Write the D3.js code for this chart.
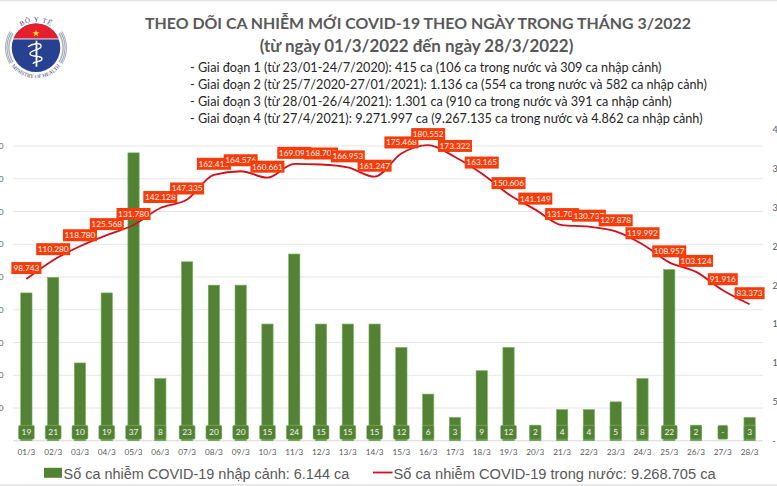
<!DOCTYPE html>
<html><head><meta charset="utf-8">
<script src="https://cdnjs.cloudflare.com/ajax/libs/d3/7.8.5/d3.min.js"></script>
<style>html,body{margin:0;padding:0;background:#fff;overflow:hidden}svg{display:block}</style>
</head><body><div id="c"></div>
<script>
const days = ["01/3","02/3","03/3","04/3","05/3","06/3","07/3","08/3","09/3","10/3","11/3","12/3","13/3","14/3","15/3","16/3","17/3","18/3","19/3","20/3","21/3","22/3","23/3","24/3","25/3","26/3","27/3","28/3"];
const imported = [19,21,10,19,37,8,23,20,20,15,24,15,15,15,12,6,3,9,12,2,4,4,5,8,22,2,0,3];
const domestic = [98743,110280,118780,125568,131780,142128,147335,162415,164576,160661,169098,168707,166953,161247,175468,180552,173322,163165,150606,141149,131700,130737,127878,119992,108957,103124,91916,83373];
const titleLines = ["THEO DÕI CA NHIỄM MỚI COVID-19 THEO NGÀY TRONG THÁNG 3/2022","(từ ngày 01/3/2022 đến ngày 28/3/2022)"];
const stageLines = [
 "- Giai đoạn 1 (từ 23/01-24/7/2020): 415 ca (106 ca trong nước và 309 ca nhập cảnh)",
 "- Giai đoạn 2 (từ 25/7/2020-27/01/2021): 1.136 ca (554 ca trong nước và 582 ca nhập cảnh)",
 "- Giai đoạn 3 (từ 28/01-26/4/2021): 1.301 ca (910 ca trong nước và 391 ca nhập cảnh)",
 "- Giai đoạn 4 (từ 27/4/2021): 9.271.997 ca (9.267.135 ca trong nước và 4.862 ca nhập cảnh)"];
const legendBar = "Số ca nhiễm COVID-19 nhập cảnh: 6.144 ca";
const legendLine = "Số ca nhiễm COVID-19 trong nước: 9.268.705 ca";

const W=777,H=486;
const svg=d3.select("#c").append("svg").attr("width",W).attr("height",H).attr("viewBox",`0 0 ${W} ${H}`);
svg.append("rect").attr("width",W).attr("height",H).attr("fill","#fff");
svg.append("rect").attr("width",W).attr("height",1.2).attr("fill","#e4e4e4");
svg.append("rect").attr("y",484).attr("width",W).attr("height",2).attr("fill","#e9e9e9");

const fmt=d3.formatLocale({decimal:",",thousands:".",grouping:[3],currency:["",""]}).format(",d");
const x=d3.scaleBand().domain(days).range([13,763]);
const yL=d3.scaleLinear().domain([0,180000]).range([440.75,146]);
const yR=d3.scaleLinear().domain([0,40]).range([440.75,129.5]);
const cx=d=>x(d)+x.bandwidth()/2;
const GRAY="#595959";

// gridlines
svg.append("g").selectAll("line").data(yL.ticks(9)).join("line")
  .attr("x1",13).attr("x2",763).attr("y1",d=>yL(d)).attr("y2",d=>yL(d))
  .attr("stroke",d=>d===0?"#d9d9d9":"#e6e6e6").attr("stroke-width",1);

// axes
const axL=svg.append("g").attr("transform","translate(3.5,0)").call(d3.axisLeft(yL).tickValues(yL.ticks(9).filter(d=>d>0)).tickSize(0).tickPadding(0).tickFormat(fmt));
const axR=svg.append("g").attr("transform","translate(772.5,0)").call(d3.axisRight(yR).tickValues(d3.range(0,45,5)).tickSize(0).tickPadding(0).tickFormat(d=>d===0?"-":d));
const axB=svg.append("g").attr("transform","translate(0,451.7)").call(d3.axisBottom(x).tickSize(0).tickPadding(0));
[axL,axR,axB].forEach(a=>{a.select(".domain").remove();a.selectAll("text").attr("fill",GRAY).attr("font-family","Lato, sans-serif").attr("font-size",8.2);});
axR.selectAll("text").attr("font-size",9);
axB.selectAll("text").attr("dy","0.35em").attr("y",0);

// bars
const BW=11.3;
svg.append("g").selectAll("rect").data(days.map((d,i)=>({d,v:imported[i]})).filter(o=>o.v>0)).join("rect")
  .attr("x",o=>cx(o.d)-BW/2).attr("width",BW)
  .attr("y",o=>yR(o.v)).attr("height",o=>yR(0)-yR(o.v))
  .attr("fill","#548235").attr("stroke","#78b565").attr("stroke-width",.6);

// bar labels
const bl=svg.append("g").selectAll("g").data(days.map((d,i)=>({d,v:imported[i]}))).join("g")
  .attr("transform",o=>`translate(${cx(o.d)},432.3)`);
bl.append("rect")
  .attr("x",o=>o.v>=10?-8:(o.v===0?-5:-5.7)).attr("width",o=>o.v>=10?16:(o.v===0?10:11.4))
  .attr("y",-7).attr("height",14).attr("rx",1.5)
  .attr("fill","#548235").attr("stroke","#8cc27a").attr("stroke-width",.5);
bl.append("text").text(o=>o.v===0?"-":o.v).attr("text-anchor","middle").attr("dy","0.35em")
  .attr("fill","#f2f6ee").attr("font-family","Lato, sans-serif").attr("font-size",8.4);

// line
svg.append("path").datum(domestic)
  .attr("d",d3.line().x((v,i)=>cx(days[i])).y(v=>yL(v)).curve(d3.curveMonotoneX))
  .attr("fill","none").attr("stroke","#d2101c").attr("stroke-width",1.8);

// line labels
const ll=svg.append("g").selectAll("g").data(domestic).join("g")
  .attr("transform",(v,i)=>`translate(${cx(days[i])},${yL(v)-11})`);
ll.append("rect").attr("x",v=>v<100000?-15:-17).attr("width",v=>v<100000?30:34)
  .attr("y",-6).attr("height",12).attr("fill","#f63c0a");
ll.append("text").text(v=>fmt(v)).attr("text-anchor","middle").attr("dy","0.35em")
  .attr("fill","#fff5ee").attr("font-family","Lato, sans-serif").attr("font-size",8.3);

// titles
svg.append("g").selectAll("text").data(titleLines).join("text").text(d=>d)
  .attr("x",(d,i)=>i?416.5:418).attr("y",(d,i)=>i?52:29).attr("text-anchor","middle")
  .attr("fill",GRAY).attr("font-family","Lato, sans-serif").attr("font-weight",700)
  .attr("font-size",(d,i)=>i?16.9:15.9);
svg.append("g").selectAll("text").data(stageLines).join("text").text(d=>d)
  .attr("x",190).attr("y",(d,i)=>72.3+i*16.8)
  .attr("fill","#262626").attr("font-family","Lato, sans-serif").attr("font-size",12.65);

// legend
svg.append("rect").attr("x",44).attr("y",467.8).attr("width",18).attr("height",10).attr("fill","#548235");
svg.append("text").text(legendBar).attr("x",63.5).attr("y",478.5)
  .attr("fill",GRAY).attr("font-family","'Liberation Sans', sans-serif").attr("font-size",14.45);
svg.append("line").attr("x1",373).attr("x2",392.5).attr("y1",472.5).attr("y2",472.5).attr("stroke","#d2101c").attr("stroke-width",1.8);
svg.append("text").text(legendLine).attr("x",393.5).attr("y",478.5)
  .attr("fill",GRAY).attr("font-family","'Liberation Sans', sans-serif").attr("font-size",14.65);

// logo
const logo=svg.append("g").attr("transform","translate(36,47.7)");
const arc=d3.arc();
const DEG=Math.PI/180;
[[26.4,27.8],[28.4,29.6],[30,31]].forEach(r=>{
  [[-122,-58],[58,122]].forEach(s=>{
    logo.append("path").attr("d",arc({innerRadius:r[0],outerRadius:r[1],startAngle:s[0]*DEG,endAngle:s[1]*DEG})).attr("fill","#a9adb8");
  });
});
logo.append("circle").attr("r",25).attr("fill","#fff");
logo.append("circle").attr("r",24.3).attr("fill","#27408f");
const defs=svg.append("defs");
defs.append("clipPath").attr("id","cap").append("rect").attr("x",-30).attr("y",-30).attr("width",60).attr("height",21);
logo.append("circle").attr("r",24.3).attr("fill","#e5202e").attr("clip-path","url(#cap)");
logo.append("rect").attr("x",-24).attr("y",-9.2).attr("width",48).attr("height",.9).attr("fill","#fff");
logo.append("path").attr("transform","translate(0,-14.3)").attr("fill","#ffd92e")
  .attr("d",d3.symbol(d3.symbolStar,16)());
logo.append("line").attr("x1",.5).attr("x2",.5).attr("y1",-7).attr("y2",19).attr("stroke","#fff").attr("stroke-width",1.8);
logo.append("path").attr("d","M-8,-1 C-4,-4 6,-6 5,-1 C4,3 -6,2 -6,6 C-6,10 6,7 6,11 C6,15 -2,13 -3,16")
  .attr("fill","none").attr("stroke","#fff").attr("stroke-width",1.4);
defs.append("path").attr("id","arcTop").attr("d","M-26,0 A26,26 0 0 1 26,0");
defs.append("path").attr("id","arcBot").attr("d","M-30.5,0 A30.5,30.5 0 0 0 30.5,0");
logo.append("text").attr("font-family","'Liberation Serif', serif").attr("font-size",7).attr("letter-spacing",.8).attr("fill","#3a4a7a").attr("text-anchor","middle")
  .append("textPath").attr("href","#arcTop").attr("startOffset","50%").text("BỘ Y TẾ");
logo.append("text").attr("font-family","'Liberation Serif', serif").attr("font-size",5.4).attr("fill","#3a3f6a").attr("text-anchor","middle")
  .append("textPath").attr("href","#arcBot").attr("startOffset","50%").text("MINISTRY OF HEALTH");
</script></body></html>
